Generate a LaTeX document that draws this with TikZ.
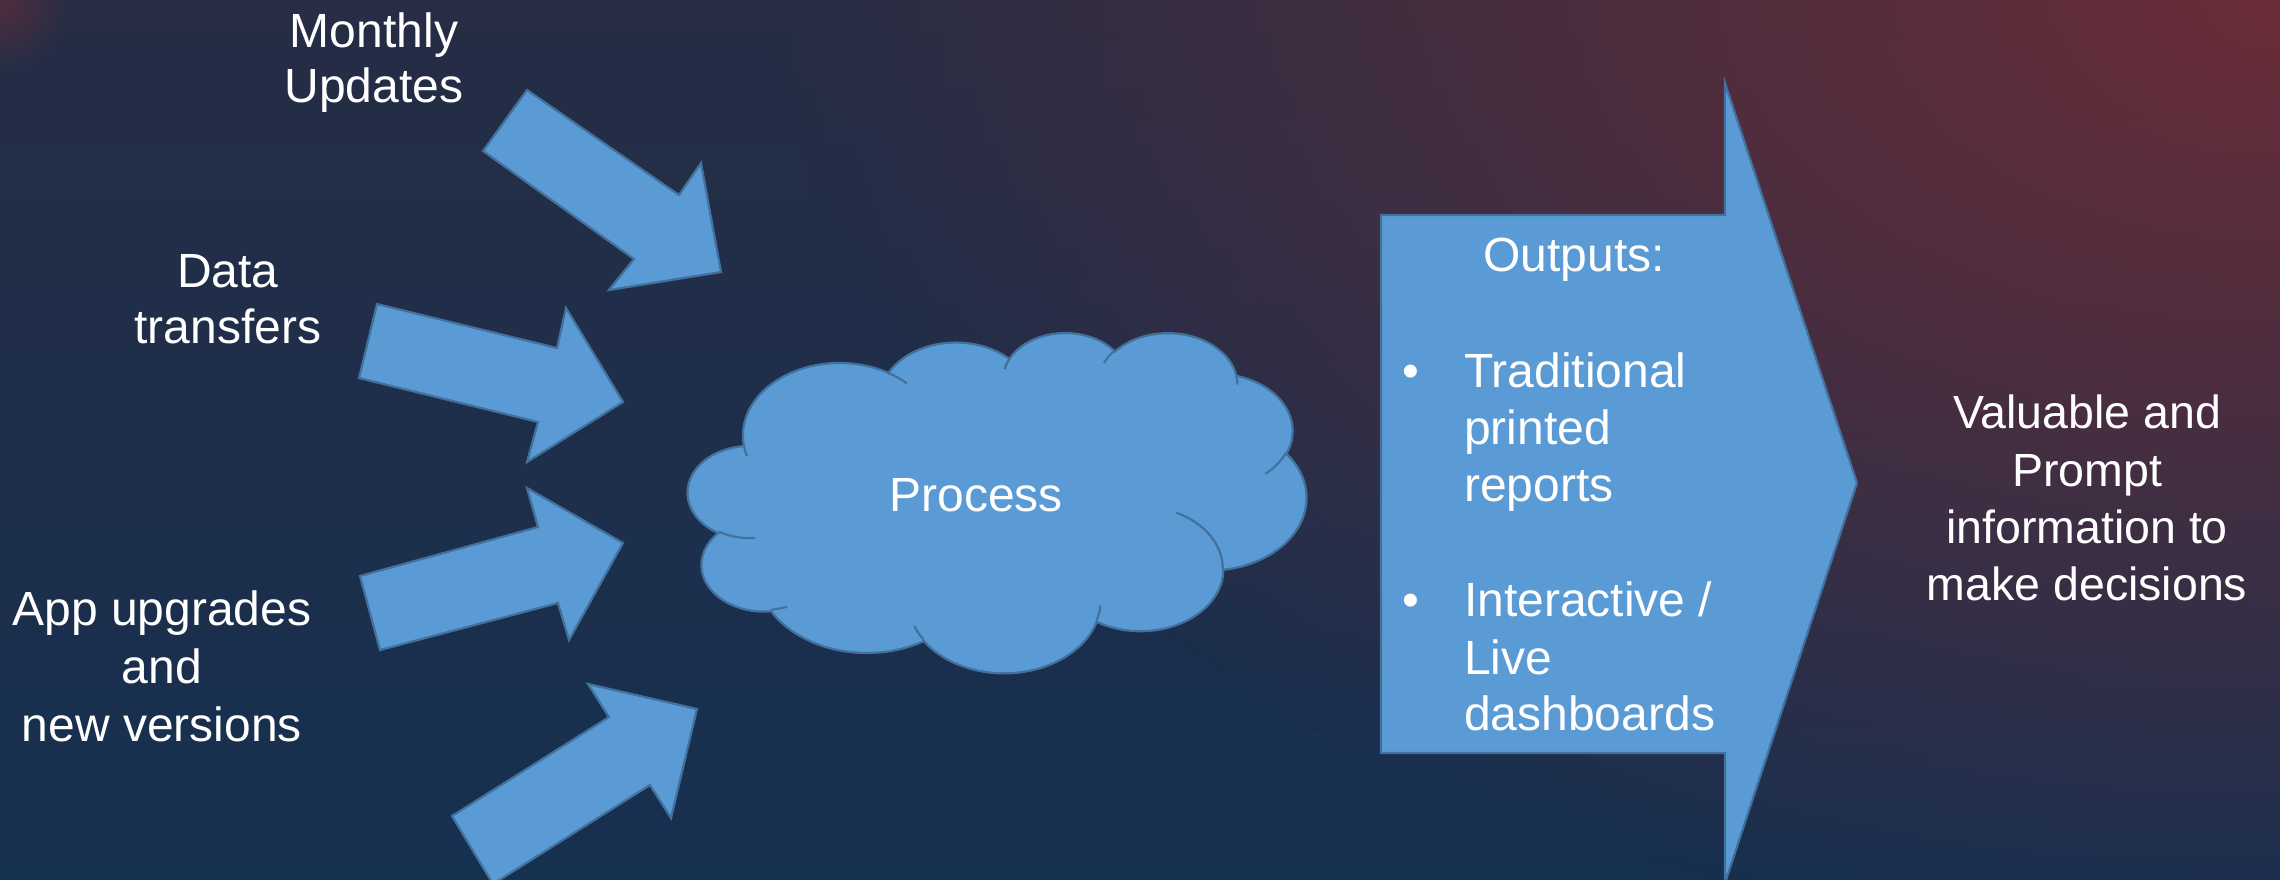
\documentclass[tikz,border=0pt]{standalone}
\usepackage{fontspec}
\setmainfont{Liberation Sans}
\usetikzlibrary{fadings}
\tikzfading[name=glowfade, inner color=transparent!0, outer color=transparent!100]
\definecolor{bgtop}{HTML}{262D45}
\definecolor{bgbot}{HTML}{163050}
\definecolor{glowc}{HTML}{6E2D38}
\definecolor{shapefill}{HTML}{5B9BD5}
\definecolor{shapeline}{HTML}{41719C}
\makeatletter
\newcommand\mkcldarc[5]{%
  \pgfmathsetmacro\cld@a{-atan2((#2)*sin(#4),(#3)*cos(#4))}%
  \pgfmathsetmacro\cld@b{-atan2((#2)*sin((#4)+(#5)),(#3)*cos((#4)+(#5)))}%
  \pgfmathsetmacro\cld@d{\cld@b-\cld@a}%
  \pgfmathsetmacro\cld@d{\cld@d-360*round((\cld@d+(#5))/360)}%
  \pgfmathsetmacro\cld@rx{(#2)*0.0143056}%
  \pgfmathsetmacro\cld@ry{(#3)*0.0078704}%
  \edef\cld@tmp{\noexpand\tikzset{#1/.style={start angle=\cld@a, delta angle=\cld@d, x radius=\cld@rx pt, y radius=\cld@ry pt}}}%
  \cld@tmp
}
\makeatother
\tikzset{
  blockarr/.style={fill=shapefill, draw=shapeline, line width=2.2pt, line join=miter},
  cloudbody/.style={fill=shapefill, draw=shapeline, line width=2.2pt},
  cloudinner/.style={draw=shapeline, line width=2.2pt},
  lbl/.style={text=white, font=\fontsize{48}{57}\selectfont, inner sep=0pt, anchor=base},
  lblw/.style={lbl, anchor=base west},
  lblr/.style={lbl, font=\fontsize{46.5}{56}\selectfont},
}
\begin{document}
\begin{tikzpicture}[x=1pt,y=-1pt]
\mkcldarc{cldA}{6753}{9190}{-190.4875}{123.7805}
\mkcldarc{cldB}{5333}{7267}{-144.1024}{89.9452}
\mkcldarc{cldC}{4365}{5945}{-145.8079}{99.7230}
\mkcldarc{cldD}{4857}{6595}{-130.9861}{117.2417}
\mkcldarc{cldE}{5333}{7273}{-78.7089}{109.0269}
\mkcldarc{cldF}{6775}{9220}{-46.2673}{130.2690}
\mkcldarc{cldG}{5785}{7867}{0.6250}{114.0333}
\mkcldarc{cldH}{6752}{9215}{22.4516}{115.1726}
\mkcldarc{cldI}{7720}{10543}{66.2426}{75.7110}
\mkcldarc{cldJ}{4360}{5918}{-274.9421}{146.7356}
\mkcldarc{cldK}{4345}{5945}{-246.8285}{152.5189}
\mkcldarc{cldiA}{4345}{5945}{86.742}{26.4295}
\mkcldarc{cldiB}{4360}{5918}{73.6105}{11.4475}
\mkcldarc{cldiC}{6752}{9215}{137.6242}{14.0811}
\mkcldarc{cldiD}{6752}{9215}{6.4533}{15.9984}
\mkcldarc{cldiE}{5785}{7867}{-70.2924}{70.9174}
\mkcldarc{cldiF}{5333}{7273}{30.3180}{27.7515}
\mkcldarc{cldiG}{4857}{6595}{-13.7443}{14.8589}
\mkcldarc{cldiH}{4857}{6595}{-149.1815}{18.1954}
\mkcldarc{cldiI}{4365}{5945}{-163.4943}{17.6864}
\mkcldarc{cldiJ}{6753}{9190}{-66.7070}{12.3194}
\mkcldarc{cldiK}{6753}{9190}{157.6544}{11.8582}
\useasboundingbox (0,0) rectangle (2280,879);
\clip (0,0) rectangle (2280,879);
% background
\shade[top color=bgtop, bottom color=bgbot] (0,0) rectangle (2280,879);
\fill[glowc, path fading=glowfade, fill opacity=0.95] (2280,0) ellipse [x radius=1500pt, y radius=950pt];
\fill[glowc, path fading=glowfade, fill opacity=0.6] (0,0) ellipse [x radius=70pt, y radius=70pt];
% input arrows
\path[blockarr] (527,90) -- (679,195) -- (701,163) -- (721,272) -- (609,290) -- (634,259) -- (483,151) -- cycle;
\path[blockarr] (377,304) -- (557,348) -- (566,308) -- (623,402) -- (527,462) -- (538,422) -- (359,378) -- cycle;
\path[blockarr] (360,576) -- (538,527) -- (527,488) -- (623,543) -- (569,640) -- (558,603) -- (380,650) -- cycle;
\path[blockarr] (452,816) -- (609,717) -- (588,684) -- (697,709) -- (671,818) -- (650,785) -- (493,884) -- cycle;
% cloud
\path[cloudbody] (743.8,445.1) arc[cldA] arc[cldB] arc[cldC] arc[cldD] arc[cldE] arc[cldF] arc[cldG] arc[cldH] arc[cldI] arc[cldJ] arc[cldK] -- cycle;
\draw[cloudinner] (755.14,538.02) arc[cldiA];
\draw[cloudinner] (787.11,606.67) arc[cldiB];
\draw[cloudinner] (923.73,639.65) arc[cldiC];
\draw[cloudinner] (1100.39,605.50) arc[cldiD];
\draw[cloudinner] (1176.24,512.66) arc[cldiE];
\draw[cloudinner] (1285.95,452.84) arc[cldiF];
\draw[cloudinner] (1236.25,374.70) arc[cldiG];
\draw[cloudinner] (1103.98,363.10) arc[cldiH];
\draw[cloudinner] (1004.74,369.15) arc[cldiI];
\draw[cloudinner] (888.28,372.86) arc[cldiJ];
\draw[cloudinner] (747.04,456.27) arc[cldiK];
\node[lbl] (process) at (976,511) {Process};
% output arrow
\path[blockarr] (1381,215) -- (1725,215) -- (1725,83) -- (1857,483) -- (1725,883) -- (1725,753) -- (1381,753) -- cycle;
\node[lbl] (outputs) at (1574,271) {Outputs:};
\node[lbl] (b1) at (1411,387) {•};
\node[lblw] (t1a) at (1464,387) {Traditional};
\node[lblw] (t1b) at (1464,444) {printed};
\node[lblw] (t1c) at (1464,501) {reports};
\node[lbl] (b2) at (1411,616) {•};
\node[lblw] (t2a) at (1464,616) {Interactive /};
\node[lblw] (t2b) at (1464,674) {Live};
\node[lblw] (t2c) at (1464,730) {dashboards};
% right text
\node[lblr] (r1) at (2087,428) {Valuable and};
\node[lblr] (r2) at (2087,486) {Prompt};
\node[lblr] (r3) at (2087,543) {information to};
\node[lblr] (r4) at (2087,600) {make decisions};
% left labels
\node[lbl] (m1) at (374,47) {Monthly};
\node[lbl] (m2) at (374,102) {Updates};
\node[lbl] (d1) at (228,287) {Data};
\node[lbl] (d2) at (228,343) {transfers};
\node[lbl] (a1) at (162,625) {App upgrades};
\node[lbl] (a2) at (162,683) {and};
\node[lbl] (a3) at (162,741) {new versions};
\end{tikzpicture}
\end{document}
